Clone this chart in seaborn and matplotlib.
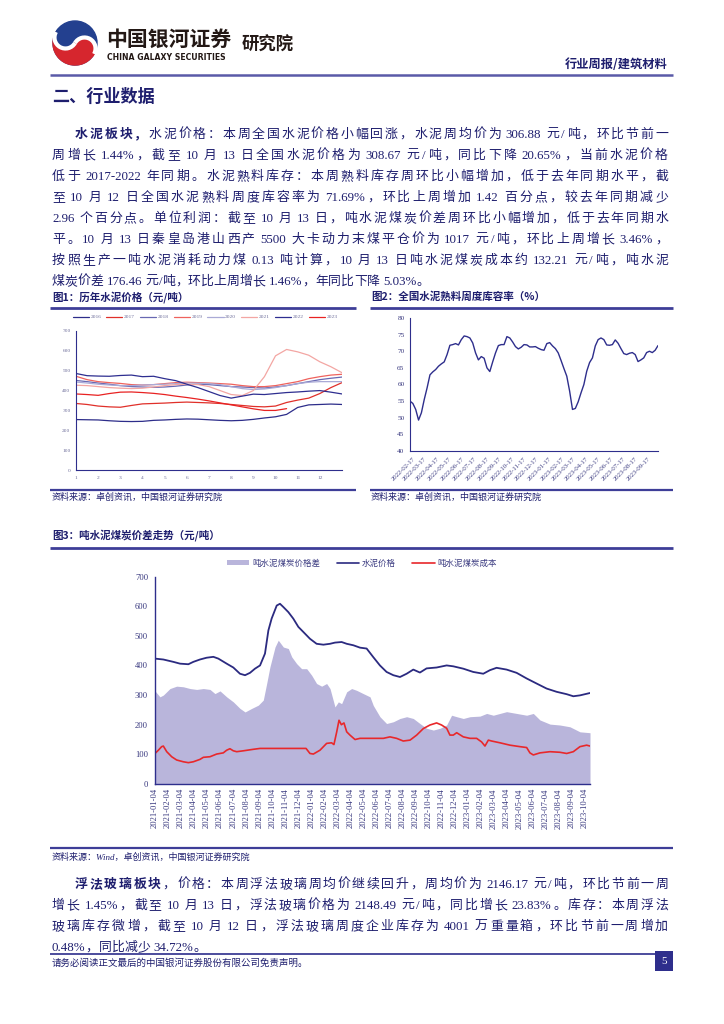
import numpy as np
import pandas as pd
import matplotlib
matplotlib.use("Agg")
import matplotlib.pyplot as plt
import seaborn as sns
from matplotlib.lines import Line2D
from matplotlib.patches import Rectangle, Patch, Wedge, Circle, Arc
from matplotlib.font_manager import FontProperties

# ---------------- data: figure 1 (cement price by year, yuan/t) ----------------
fig1_years = ["2016", "2017", "2018", "2019", "2020", "2021", "2022", "2023"]
fig1_months = [1, 1.5, 2, 2.5, 3, 3.5, 4, 4.5, 5, 5.5, 6, 6.5, 7, 7.5, 8, 8.5,
               9, 9.5, 10, 10.5, 11, 11.5, 12, 12.5, 13]
fig1_xticklabels = ["1", "2", "3", "4", "5", "6", "7", "8", "9", "10", "11", "12"]
p2016 = [254, 253, 252, 248, 245, 244, 245, 250, 252, 255, 257, 256, 253, 250, 248, 250,
         255, 262, 268, 280, 315, 328, 330, 332, 330]
p2017 = [335, 330, 322, 318, 316, 325, 333, 335, 337, 340, 342, 340, 338, 335, 330, 325,
         320, 318, 322, 340, 352, 362, 385, 415, 440]
p2018 = [451, 445, 438, 432, 425, 420, 418, 416, 418, 422, 428, 432, 430, 425, 420, 418,
         415, 413, 418, 425, 435, 445, 455, 462, 468]
p2019 = [472, 455, 445, 440, 436, 430, 428, 430, 435, 440, 442, 440, 438, 435, 432, 425,
         420, 420, 425, 435, 445, 460, 470, 478, 482]
p2020 = [443, 438, 432, 428, 425, 425, 428, 430, 432, 435, 438, 437, 435, 430, 420, 410,
         405, 408, 415, 425, 435, 442, 445, 445, 445]
p2021 = [427, 425, 420, 415, 412, 410, 412, 418, 425, 430, 432, 430, 420, 400, 380, 375,
         400, 470, 575, 607, 595, 578, 545, 520, 490]
p2022 = [486, 475, 473, 472, 476, 478, 470, 472, 460, 450, 432, 415, 395, 375, 362, 372,
         382, 380, 385, 390, 393, 397, 400, 392, 383]
p2023 = [383, 380, 376, 385, 392, 393, 390, 386, 380, 372, 365, 357, 348, 338, 328, 318,
         308, 300, 300, 309]

# ---------------- data: figure 2 (clinker storage ratio, %, weekly) ----------------
fig2_start = "2022-02-10"
fig2_ratio = [55.0, 54.3, 52.5, 49.3, 51.5, 55.5, 59.0, 62.9, 63.8, 64.5,
              65.5, 66.2, 66.8, 69.0, 71.8, 72.0, 72.3, 71.9, 73.5, 74.6,
              74.4, 74.0, 72.5, 69.5, 67.4, 68.4, 67.9, 65.0, 63.9, 66.8,
              69.5, 71.7, 72.0, 72.0, 74.4, 74.0, 72.8, 71.4, 70.7, 71.2,
              72.0, 71.9, 71.3, 71.3, 71.4, 70.9, 70.5, 70.3, 72.3, 72.6,
              71.6, 70.8, 69.5, 67.2, 64.8, 62.5, 58.0, 52.5, 52.8, 54.8,
              57.5, 60.0, 64.0, 66.6, 68.0, 71.6, 73.5, 74.0, 73.5, 71.9,
              71.8, 72.0, 73.4, 72.4, 70.8, 69.3, 69.0, 69.4, 69.6, 69.0,
              66.9, 67.4, 68.0, 69.6, 70.0, 69.6, 70.3, 71.7]
fig2_ticklabels = ["2022-02-17", "2022-03-17", "2022-04-17", "2022-05-17", "2022-06-17",
                   "2022-07-17", "2022-08-17", "2022-09-17", "2022-10-17", "2022-11-17",
                   "2022-12-17", "2023-01-17", "2023-02-17", "2023-03-17", "2023-04-17",
                   "2023-05-17", "2023-06-17", "2023-07-17", "2023-08-17", "2023-09-17"]

# ---------------- data: figure 3 (months since 2021-01-04, yuan/t) ----------------
fig3_ticklabels = ["2021-01-04", "2021-02-04", "2021-03-04", "2021-04-04", "2021-05-04",
                   "2021-06-04", "2021-07-04", "2021-08-04", "2021-09-04", "2021-10-04",
                   "2021-11-04", "2021-12-04", "2022-01-04", "2022-02-04", "2022-03-04",
                   "2022-04-04", "2022-05-04", "2022-06-04", "2022-07-04", "2022-08-04",
                   "2022-09-04", "2022-10-04", "2022-11-04", "2022-12-04", "2023-01-04",
                   "2023-02-04", "2023-03-04", "2023-04-04", "2023-05-04", "2023-06-04",
                   "2023-07-04", "2023-08-04", "2023-09-04", "2023-10-04"]
price_m = [0.00, 0.64, 1.41, 1.92, 2.56, 2.94, 3.45, 3.96, 4.48, 4.86, 5.50, 6.01, 6.52,
           6.91, 7.29, 7.67, 8.06, 8.44, 8.70, 8.95, 9.34, 9.59, 9.85, 10.23, 10.61, 11.00,
           11.38, 11.89, 12.40, 12.92, 13.43, 13.81, 14.32, 14.71, 15.22, 15.73, 16.24,
           16.75, 17.26, 17.77, 18.29, 18.80, 19.31, 19.82, 20.33, 20.84, 21.61, 22.38,
           22.89, 23.66, 24.42, 25.19, 25.70, 26.21, 26.98, 27.75, 28.52, 29.28, 30.05,
           30.82, 31.59, 32.10, 32.61, 33.38]
price_v = [423, 420, 412, 406, 404, 412, 420, 426, 429, 423, 406, 393, 372, 367, 375, 389,
           400, 440, 518, 558, 602, 608, 597, 580, 558, 530, 513, 490, 473, 470, 473, 477,
           479, 473, 468, 460, 457, 428, 400, 378, 367, 361, 372, 386, 376, 390, 393, 400,
           397, 389, 378, 372, 384, 392, 386, 375, 356, 339, 322, 311, 303, 296, 299, 307]
spread_m = [0.00, 0.38, 0.64, 1.15, 1.66, 2.17, 2.69, 3.20, 3.71, 4.22, 4.60, 4.99, 5.50,
            6.01, 6.52, 6.91, 7.42, 7.93, 8.31, 8.57, 8.82, 9.21, 9.46, 9.85, 10.23, 10.49,
            10.87, 11.25, 11.64, 12.02, 12.40, 12.79, 13.17, 13.43, 13.81, 14.07, 14.32,
            14.71, 15.09, 15.47, 15.98, 16.50, 16.75, 17.26, 17.77, 18.29, 18.80, 19.31,
            19.82, 20.33, 20.84, 21.36, 21.87, 22.38, 22.76, 23.15, 23.66, 24.17, 24.94,
            25.45, 25.96, 26.98, 27.75, 28.52, 29.03, 29.54, 30.31, 31.07, 31.84, 32.61,
            33.38]
spread_v = [314, 294, 300, 322, 330, 328, 322, 319, 322, 319, 305, 314, 294, 277, 255, 243,
            255, 266, 283, 339, 395, 462, 485, 462, 457, 429, 406, 389, 389, 367, 339, 330,
            339, 322, 260, 277, 271, 311, 322, 316, 305, 294, 265, 227, 204, 210, 221, 227,
            221, 204, 188, 182, 188, 199, 232, 227, 221, 227, 229, 238, 232, 244, 238, 232,
            238, 216, 202, 199, 193, 176, 173]
cost_m = [0.00, 0.26, 0.51, 0.64, 0.90, 1.28, 1.66, 2.17, 2.56, 2.94, 3.45, 3.71, 4.22,
          4.73, 5.24, 5.50, 5.75, 6.01, 6.27, 6.78, 7.54, 8.06, 11.59, 11.89, 12.15, 12.66,
          13.17, 13.55, 13.73, 13.94, 14.12, 14.30, 14.50, 14.71, 14.96, 15.35, 15.73,
          16.50, 17.52, 18.03, 18.54, 19.05, 19.57, 20.08, 20.59, 21.10, 21.61, 21.99,
          22.38, 22.63, 22.89, 23.15, 23.66, 24.17, 24.68, 25.06, 25.32, 25.58, 25.83,
          26.47, 27.24, 28.01, 28.52, 28.77, 29.03, 29.54, 30.31, 31.07, 31.59, 32.10,
          32.61, 33.12, 33.38]
cost_v = [103, 114, 126, 128, 109, 92, 81, 75, 72, 75, 83, 90, 92, 101, 105, 114, 119, 112,
          109, 112, 117, 120, 120, 103, 101, 114, 137, 139, 133, 175, 215, 200, 206, 176,
          165, 150, 154, 154, 154, 159, 154, 145, 148, 165, 187, 199, 206, 199, 188, 165,
          165, 173, 159, 154, 154, 142, 128, 148, 145, 139, 131, 126, 123, 105, 98, 105,
          109, 107, 103, 109, 126, 131, 128]
fig3_labels = ["吨水泥煤炭价格差", "水泥价格", "吨水泥煤炭成本"]

# ---------------- text ----------------
para1 = [
    [("水泥板块，", True), ("水泥价格：本周全国水泥价格小幅回涨，水泥周均价为 306.88 元/吨，环比节前一", False)],
    [("周增长 1.44%，截至 10 月 13 日全国水泥价格为 308.67 元/吨，同比下降 20.65%，当前水泥价格", False)],
    [("低于 2017-2022 年同期。水泥熟料库存：本周熟料库存周环比小幅增加，低于去年同期水平，截", False)],
    [("至 10 月 12 日全国水泥熟料周度库容率为 71.69%，环比上周增加 1.42 百分点，较去年同期减少", False)],
    [("2.96 个百分点。单位利润：截至 10 月 13 日，吨水泥煤炭价差周环比小幅增加，低于去年同期水", False)],
    [("平。10 月 13 日秦皇岛港山西产 5500 大卡动力末煤平仓价为 1017 元/吨，环比上周增长 3.46%，", False)],
    [("按照生产一吨水泥消耗动力煤 0.13 吨计算，10 月 13 日吨水泥煤炭成本约 132.21 元/吨，吨水泥", False)],
    [("煤炭价差 176.46 元/吨，环比上周增长 1.46%，年同比下降 5.03%。", False)],
]
para2 = [
    [("浮法玻璃板块", True), ("，价格：本周浮法玻璃周均价继续回升，周均价为 2146.17 元/吨，环比节前一周", False)],
    [("增长 1.45%，截至 10 月 13 日，浮法玻璃价格为 2148.49 元/吨，同比增长 23.83%。库存：本周浮法", False)],
    [("玻璃库存微增，截至 10 月 12 日，浮法玻璃周度企业库存为 4001 万重量箱，环比节前一周增加", False)],
    [("0.48%，同比减少 34.72%。", False)],
]

# ---------------- style ----------------
sns.set_theme(style="white")
FAM = ["Liberation Serif", "Noto Sans CJK SC", "DejaVu Sans"]
SANS = ["Noto Sans CJK SC", "DejaVu Sans"]
plt.rcParams["font.family"] = FAM
plt.rcParams["axes.unicode_minus"] = False

NAVY = "#1e1e6e"
AXC = "#2e2e8c"
RULE = "#3e3e98"
W, H = 724, 1024
fig = plt.figure(figsize=(7.24, 10.24), dpi=100)
fig.patch.set_facecolor("white")


def fx(x):
    return x / W


def fy(y):
    return 1 - y / H


def hline(x0, x1, y, color=RULE, lw=1.6):
    fig.add_artist(Line2D([fx(x0), fx(x1)], [fy(y), fy(y)], color=color, lw=lw,
                          transform=fig.transFigure, solid_capstyle="butt"))


def ftext(x, y, s, size, color=NAVY, weight="normal", ha="left", va="center", family=FAM, **kw):
    return fig.text(fx(x), fy(y), s, fontsize=size, color=color, fontweight=weight,
                    ha=ha, va=va, family=family, **kw)


renderer = fig.canvas.get_renderer()


def tokenize(segments):
    toks = []
    for s, bold in segments:
        buf, buf_sp, sp = "", 0, 0
        for ch in s:
            if ch == " ":
                if buf:
                    toks.append((buf, bold, buf_sp))
                    buf = ""
                sp += 1
            elif ord(ch) < 0x2000:
                if not buf:
                    buf_sp, sp = sp, 0
                buf += ch
            else:
                if buf:
                    toks.append((buf, bold, buf_sp))
                    buf = ""
                toks.append((ch, bold, sp))
                sp = 0
        if buf:
            toks.append((buf, bold, buf_sp))
    return toks


def draw_line(segments, x0, x1, ybase, size, color=NAVY, justify=True):
    toks = tokenize(segments)
    em = size * 100 / 72.0
    spw = 0.25 * em
    widths = []
    for s, b, nsp in toks:
        if len(s) == 1 and ord(s) >= 0x2000:
            widths.append(em)
        else:
            prop = FontProperties(family=FAM, size=size, weight="bold" if b else "normal")
            w, h, d = renderer.get_text_width_height_descent(s, prop, ismath=False)
            widths.append(w)
    natural = sum(widths) + sum(t[2] for t in toks) * spw
    gap = 0.0
    if justify and len(toks) > 1:
        gap = (x1 - x0 - natural) / (len(toks) - 1)
    x = x0
    for i, ((s, b, nsp), w) in enumerate(zip(toks, widths)):
        if i > 0:
            x += gap
        x += nsp * spw
        fig.text(fx(x), fy(ybase), s, fontsize=size, color=color,
                 fontweight="bold" if b else "normal", family=FAM, ha="left", va="baseline")
        x += w


# ---------------- header ----------------
LBLUE = "#23408f"
LRED_LOGO = "#d6262e"
axl = fig.add_axes([fx(48), fy(68), (104 - 48) / W, (68 - 18) / H])
axl.set_xlim(0, 56)
axl.set_ylim(0, 50)
axl.set_aspect("equal")
axl.axis("off")
cx, cy, r = 27.0, 25.0, 22.0
ang = np.deg2rad(150)
c1 = (cx + r / 2 * np.cos(ang), cy + r / 2 * np.sin(ang))
c2 = (cx - r / 2 * np.cos(ang), cy - r / 2 * np.sin(ang))
axl.add_patch(Circle((cx, cy), r, color=LBLUE))
axl.add_patch(Wedge((cx, cy), r, 150, 330, color=LRED_LOGO))
axl.add_patch(Circle(c1, r / 2, color=LBLUE))
axl.add_patch(Circle(c2, r / 2, color=LRED_LOGO))
axl.add_patch(Arc(c1, r, r, theta1=150, theta2=330, color="white", lw=3.0))
axl.add_patch(Arc(c2, r, r, theta1=-30, theta2=150, color="white", lw=3.0))

ftext(106, 39, "中国银河证券", 15, color="#231815", weight="bold", family=SANS)
ftext(107, 57, "CHINA GALAXY SECURITIES", 5.6, color="#231815", weight="bold",
      family=["DejaVu Sans"])
ftext(242, 45, "研究院", 12.5, color="#231815", weight="bold", family=SANS)
ftext(668, 64, "行业周报/建筑材料", 8.8, color=NAVY, weight="bold", ha="right", family=SANS)
hline(50, 673, 75, color="#5a5aa8", lw=1.8)

ftext(52, 97, "二、行业数据", 12.3, color=NAVY, weight="bold", family=SANS)

# ---------------- paragraph 1 ----------------
BODY = 9.3
for k, seg in enumerate(para1):
    yb = 133 + 21 * k + 5
    x0 = 75 if k == 0 else 52
    draw_line(seg, x0, 668, yb, BODY, justify=(k < len(para1) - 1))

# ---------------- figure titles / rules ----------------
ftext(52, 297, "图1：历年水泥价格（元/吨）", 7.6, weight="bold", family=SANS)
ftext(371, 297, "图2：全国水泥熟料周度库容率（%）", 7.6, weight="bold", family=SANS)
hline(50, 356, 308, lw=2.0)
hline(370, 673, 308, lw=2.0)
hline(50, 356, 490, lw=1.6)
hline(370, 673, 490, lw=1.6)
ftext(52, 497, "资料来源：卓创资讯，中国银河证券研究院", 6.5, family=SANS, style="italic")
ftext(371, 497, "资料来源：卓创资讯，中国银河证券研究院", 6.5, family=SANS, style="italic")

# ---------------- figure 1 ----------------
fig1_colors = ["#2d2d8a", "#e0302a", "#6868b2", "#ef625d", "#aaaad6", "#f3a6a3", "#2e2e90", "#e82222"]
rows = []
for yr, vals in zip(fig1_years, [p2016, p2017, p2018, p2019, p2020, p2021, p2022, p2023]):
    for m, v in zip(fig1_months, vals):
        rows.append({"month": m, "price": v, "year": yr})
df1 = pd.DataFrame(rows)

ax1 = fig.add_axes([fx(76), fy(470), (342 - 76) / W, (470 - 331) / H])
sns.lineplot(data=df1, x="month", y="price", hue="year", hue_order=fig1_years,
             palette=fig1_colors, ax=ax1, legend=False, linewidth=0.9)
ax1.set_xlim(1, 13)
ax1.set_ylim(0, 700)
ax1.set_yticks(range(0, 701, 100))
ax1.set_xticks(range(1, 13))
ax1.set_xticklabels(fig1_xticklabels)
ax1.set_xlabel("")
ax1.set_ylabel("")
for sp in ["top", "right"]:
    ax1.spines[sp].set_visible(False)
for sp in ["left", "bottom"]:
    ax1.spines[sp].set_color(AXC)
    ax1.spines[sp].set_linewidth(0.8)
ax1.tick_params(axis="both", labelsize=3.9, colors=AXC, labelcolor="#6a6a98",
                direction="in", length=2, width=0.5, pad=4)
ax1.set_facecolor("white")
h1 = [Line2D([], [], color=c, lw=0.9) for c in fig1_colors]
fig.legend(h1, fig1_years, loc="center", bbox_to_anchor=(fx(205), fy(317)), ncol=8,
           frameon=False, prop=FontProperties(family=FAM, size=3.9), labelcolor="#6a6a98",
           handlelength=3.0, handletextpad=0.3, columnspacing=0.9, borderaxespad=0)

# ---------------- figure 2 ----------------
dates2 = pd.date_range(fig2_start, periods=len(fig2_ratio), freq="7D")
ax2 = fig.add_axes([fx(410), fy(451), (658 - 410) / W, (451 - 318) / H])
sns.lineplot(x=dates2, y=fig2_ratio, ax=ax2, color="#2e2e8c", linewidth=1.0)
ax2.set_xlim(dates2[0], dates2[-1])
ax2.set_ylim(40, 80)
ax2.set_yticks(range(40, 81, 5))
tick_dates2 = pd.to_datetime(fig2_ticklabels)
ax2.set_xticks(tick_dates2)
ax2.set_xticklabels(fig2_ticklabels, rotation=45, ha="right", rotation_mode="anchor")
ax2.set_xlabel("")
ax2.set_ylabel("")
for sp in ["top", "right"]:
    ax2.spines[sp].set_visible(False)
for sp in ["left", "bottom"]:
    ax2.spines[sp].set_color(AXC)
    ax2.spines[sp].set_linewidth(0.8)
ax2.tick_params(axis="y", labelsize=5.2, colors=AXC, labelcolor="#3a3a80",
                direction="in", length=2, width=0.5, pad=4)
ax2.tick_params(axis="x", labelsize=4.8, colors=AXC, labelcolor="#3a3a80",
                direction="out", length=2, width=0.5, pad=1.5)
ax2.set_facecolor("white")

# ---------------- figure 3 ----------------
ftext(52, 535, "图3：吨水泥煤炭价差走势（元/吨）", 7.6, weight="bold", family=SANS)
hline(50, 673, 548, lw=2.0)
AREA = "#b9b5db"
LNAVY = "#2b2a80"
LRED = "#e8282b"
ax3 = fig.add_axes([fx(155), fy(784), (590 - 155) / W, (784 - 576.5) / H])
ax3.fill_between(spread_m, spread_v, 0, color=AREA, linewidth=0)
sns.lineplot(x=price_m, y=price_v, ax=ax3, color=LNAVY, linewidth=1.3)
sns.lineplot(x=cost_m, y=cost_v, ax=ax3, color=LRED, linewidth=1.2)
ax3.set_xlim(0, price_m[-1])
ax3.set_ylim(0, 700)
ax3.set_yticks(range(0, 701, 100))
ax3.set_xticks(range(len(fig3_ticklabels)))
ax3.set_xticklabels(fig3_ticklabels, rotation=90)
ax3.set_xlabel("")
ax3.set_ylabel("")
for sp in ["top", "right"]:
    ax3.spines[sp].set_visible(False)
for sp in ["left", "bottom"]:
    ax3.spines[sp].set_color(AXC)
    ax3.spines[sp].set_linewidth(1.0)
ax3.tick_params(axis="both", labelsize=6.2, colors=AXC, labelcolor="#3a3a80",
                direction="in", length=2.5, width=0.6)
ax3.tick_params(axis="y", pad=5)
ax3.tick_params(axis="x", pad=3)
ax3.set_facecolor("white")
h3 = [Patch(facecolor=AREA, edgecolor="none"), Line2D([], [], color=LNAVY, lw=1.2),
      Line2D([], [], color=LRED, lw=1.2)]
fig.legend(h3, fig3_labels, loc="center", bbox_to_anchor=(fx(362), fy(563)), ncol=3,
           frameon=False, prop=FontProperties(family=SANS, size=6.1), labelcolor="#3a3a80",
           handlelength=2.6, handleheight=0.6, handletextpad=0.3, columnspacing=2.0,
           borderaxespad=0)
hline(50, 673, 848, lw=1.6)
ftext(52, 857, "资料来源：Wind，卓创资讯，中国银河证券研究院", 6.5, family=FAM, style="italic")

# ---------------- paragraph 2 ----------------
for k, seg in enumerate(para2):
    yb = 883 + 21 * k + 5
    x0 = 75 if k == 0 else 52
    draw_line(seg, x0, 668, yb, BODY, justify=(k < len(para2) - 1))

# ---------------- footer ----------------
hline(50, 655, 954, color="#2e2e8c", lw=1.2)
fig.add_artist(Rectangle((fx(655), fy(971)), (673 - 655) / W, (971 - 951) / H,
                         transform=fig.transFigure, facecolor="#2e2e8c", edgecolor="none"))
ftext(664, 961, "5", 8, color="white", ha="center", family=FAM)
ftext(52, 963, "请务必阅读正文最后的中国银河证券股份有限公司免责声明。", 6.8, family=SANS)

fig.savefig("out.png", dpi=100, facecolor="white")
